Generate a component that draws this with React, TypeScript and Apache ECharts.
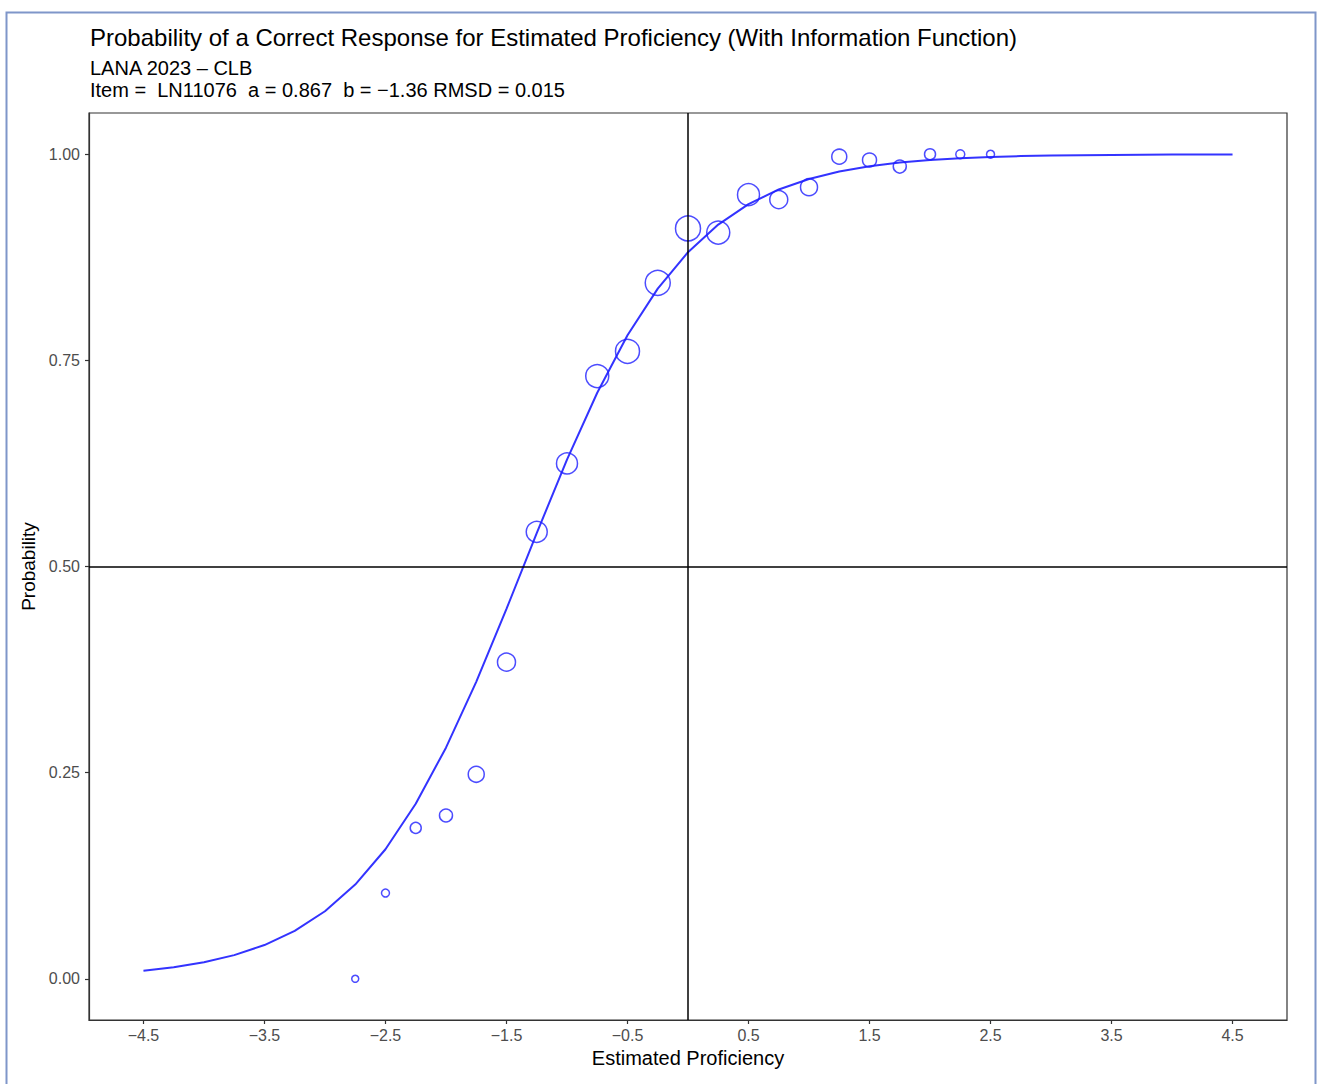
import React, { useEffect, useRef } from "react";
import * as echarts from "echarts";

// Observed proportions correct at each proficiency group
const groupTheta = [-2.75, -2.5, -2.25, -2.0, -1.75, -1.5, -1.25, -1.0, -0.75, -0.5, -0.25, 0.0, 0.25, 0.5, 0.75, 1.0, 1.25, 1.5, 1.75, 2.0, 2.25, 2.5];
const groupProp = [0.0, 0.104, 0.183, 0.198, 0.248, 0.384, 0.542, 0.625, 0.731, 0.761, 0.844, 0.910, 0.905, 0.951, 0.945, 0.960, 0.997, 0.993, 0.985, 1.0, 1.0, 1.0];
const groupSize = [7, 8, 11, 13, 16, 18, 21, 21, 23, 24, 25, 25, 23, 22, 18, 17, 15, 14, 13, 11, 9, 8];

// Model curve
const curveTheta = [-4.5, -4.25, -4.0, -3.75, -3.5, -3.25, -3.0, -2.75, -2.5, -2.25, -2.0, -1.75, -1.5, -1.25, -1.0, -0.75, -0.5, -0.25, 0.0, 0.25, 0.5, 0.75, 1.0, 1.25, 1.5, 1.75, 2.0, 2.25, 2.5, 2.75, 3.0, 3.25, 3.5, 3.75, 4.0, 4.25, 4.5];
const curveProb = [0.0097, 0.0139, 0.020, 0.0287, 0.0409, 0.0581, 0.0819, 0.1142, 0.1571, 0.2122, 0.2803, 0.3601, 0.4486, 0.5404, 0.6297, 0.7107, 0.7804, 0.837, 0.8812, 0.9147, 0.9394, 0.9573, 0.970, 0.9791, 0.9854, 0.9899, 0.993, 0.9951, 0.9966, 0.9977, 0.9984, 0.9989, 0.9992, 0.9995, 0.9996, 0.9997, 0.9998];

const xTicks = [-4.5, -3.5, -2.5, -1.5, -0.5, 0.5, 1.5, 2.5, 3.5, 4.5];
const yTicks = [0, 0.25, 0.5, 0.75, 1.0];

const titleText = "Probability of a Correct Response for Estimated Proficiency (With Information Function)";
const subLine1 = "LANA 2023 \u2013 CLB";
const subLine2 = "Item =  LN11076  a = 0.867  b = \u22121.36 RMSD = 0.015";

const FONT = "'Liberation Sans', Arial, Helvetica, sans-serif";

export default function App() {
  const ref = useRef<HTMLDivElement>(null);
  useEffect(() => {
    if (!ref.current) return;
    const chart = echarts.init(ref.current, undefined, { renderer: "svg" });
    const fmt = (v: number, d: number) => {
      const s = Math.abs(v).toFixed(d);
      return v < -1e-9 ? "\u2212" + s : s;
    };
    chart.setOption({
      animation: false,
      backgroundColor: "#ffffff",
      textStyle: { fontFamily: FONT },
      title: {
        text: titleText,
        subtext: subLine1 + "\n" + subLine2,
        left: 90,
        top: 25,
        padding: 0,
        itemGap: 8,
        textStyle: { fontFamily: FONT, fontSize: 24, fontWeight: "normal", color: "#000" },
        subtextStyle: { fontFamily: FONT, fontSize: 20, color: "#000", lineHeight: 22 },
      },
      graphic: [
        {
          type: "rect",
          left: 4,
          top: 10,
          shape: { width: 1309, height: 1090 },
          style: { fill: "none", stroke: "#7f96c9", lineWidth: 2 },
          silent: true,
        },
      ],
      grid: {
        left: 89,
        right: 30,
        top: 113,
        bottom: 64,
        show: true,
        borderColor: "#333333",
        borderWidth: 1.2,
        backgroundColor: "transparent",
      },
      xAxis: {
        type: "value",
        min: -4.95,
        max: 4.95,
        name: "Estimated Proficiency",
        nameLocation: "middle",
        nameGap: 27,
        nameTextStyle: { fontFamily: FONT, fontSize: 20, color: "#000" },
        axisLine: { show: true, onZero: false, lineStyle: { color: "#333333", width: 1.2 } },
        axisTick: { show: true, length: 4, customValues: xTicks, lineStyle: { color: "#333333", width: 1.2 } },
        axisLabel: {
          customValues: xTicks,
          margin: 7,
          fontFamily: FONT,
          fontSize: 16,
          color: "#4d4d4d",
          formatter: (v: number) => fmt(v, 1),
        },
        splitLine: { show: false },
      },
      yAxis: {
        type: "value",
        min: -0.05,
        max: 1.05,
        name: "Probability",
        nameLocation: "middle",
        nameGap: 45,
        nameTextStyle: { fontFamily: FONT, fontSize: 19, color: "#000" },
        axisLine: { show: true, onZero: false, lineStyle: { color: "#333333", width: 1.2 } },
        axisTick: { show: true, length: 4, customValues: yTicks, lineStyle: { color: "#333333", width: 1.2 } },
        axisLabel: {
          customValues: yTicks,
          margin: 9,
          fontFamily: FONT,
          fontSize: 16,
          color: "#4d4d4d",
          formatter: (v: number) => fmt(v, 2),
        },
        splitLine: { show: false },
      },
      series: [
        {
          type: "line",
          data: curveTheta.map((t, i) => [t, curveProb[i]]),
          showSymbol: false,
          symbol: "none",
          lineStyle: { color: "#3333ff", width: 2 },
          z: 3,
          markLine: {
            silent: true,
            symbol: "none",
            label: { show: false },
            lineStyle: { color: "#000000", width: 1.5, type: "solid" },
            data: [{ xAxis: 0 }, { yAxis: 0.5 }],
          },
        },
        {
          type: "scatter",
          data: groupTheta.map((t, i) => [t, groupProp[i], groupSize[i]]),
          symbol: "circle",
          symbolSize: (d: number[]) => d[2],
          itemStyle: { color: "rgba(0,0,0,0)", borderColor: "#1f1fff", borderWidth: 1.5 },
          z: 4,
        },
      ],
    });
    return () => chart.dispose();
  }, []);
  return (
    <div
      ref={ref}
      style={{ position: "fixed", left: 0, top: 0, width: 1317, height: 1084, background: "#fff" }}
    />
  );
}
